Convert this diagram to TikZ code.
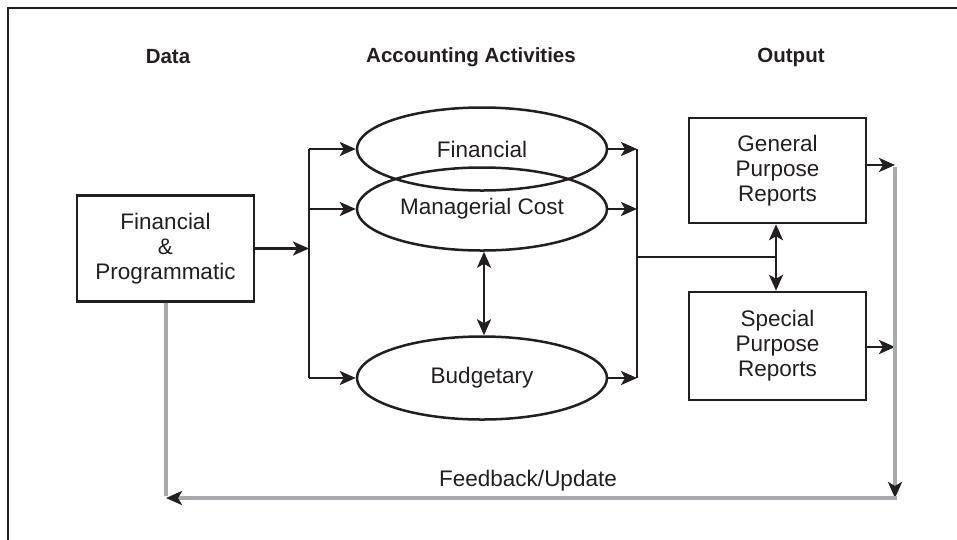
\documentclass[tikz,border=0pt]{standalone}
\usepackage{fontspec}
\setmainfont{Liberation Sans}
\usetikzlibrary{arrows.meta,shapes.geometric}
\definecolor{ink}{HTML}{231F20}
\definecolor{fbgray}{HTML}{A7A9AC}
\begin{document}
\begin{tikzpicture}[x=1pt,y=-1pt,color=ink,line width=2.5pt,
  arr/.tip={Stealth[length=16pt,width=14pt,inset=4pt]},
  >={arr},
  bodyfont/.style={font=\fontsize{22.5}{25}\selectfont},
  head/.style={font=\fontsize{20.5}{24}\selectfont\bfseries},
  repbox/.style={draw,rectangle,minimum width=177pt,minimum height=106pt,align=center,inner sep=0pt,bodyfont},
  oval/.style={draw,ellipse,minimum width=250pt,minimum height=83pt,inner sep=0pt,bodyfont},
  fbline/.style={draw=fbgray,line width=3.2pt},
  fbtip/.style={-{Stealth[length=16pt,width=14pt,inset=4pt,color=ink]}}]
\useasboundingbox (0,0) rectangle (957,539);
% frame
\draw[line width=2.8pt] (8,541) -- (8,8) -- (959,8);
% headings
\node[head] (hdata) at (168,57) {Data};
\node[head] (hact) at (471,57) {Accounting Activities};
\node[head] (hout) at (791,57) {Output};
% boxes
\node[repbox] (fp) at (165.5,248.5) {Financial\\\&\\Programmatic};
\node[repbox,minimum height=105pt] (gen) at (777.5,170.5) {General\\Purpose\\Reports};
\node[repbox,minimum height=108pt] (spe) at (777.5,346) {Special\\Purpose\\Reports};
% ellipses
\node[oval] (fin) at (482,149) {Financial};
\node[oval] (man) at (482,209) {\raisebox{-3pt}{Managerial Cost}};
\node[oval] (bud) at (482,378) {Budgetary};
% bus coordinates
\coordinate (lt) at (309,149);
\coordinate (lm) at (309,209);
\coordinate (lc) at (309,248.5);
\coordinate (lb) at (309,378);
\coordinate (rt) at (637,149);
\coordinate (rm) at (637,209);
\coordinate (rc) at (637,257);
\coordinate (rb) at (637,378);
\coordinate (jn) at (776,257);
\coordinate (gt) at (895,165);
\coordinate (st) at (895,347);
\coordinate (br) at (895,498);
\coordinate (bl) at (166,498);
% data to bus
\draw[->] (fp.east) -- (lc);
\draw (lt) -- (lb);
\draw[->] (lt) -- (fin.west);
\draw[->] (lm) -- (man.west);
\draw[->] (lb) -- (bud.west);
% ellipses to bus
\draw[->] (fin.east) -- (rt);
\draw[->] (man.east) -- (rm);
\draw[->] (bud.east) -- (rb);
\draw (rt) -- (rb);
\draw[<->] (man.south -| 484,0) -- (bud.north -| 484,0);
% to outputs
\draw (rc) -- (jn);
\draw[<->] (gen.south -| jn) -- (spe.north -| jn);
\draw[->] (gen.east |- gt) -- (gt);
\draw[->] (spe.east |- st) -- (st);
% feedback
\draw[fbline] (fp.south -| bl) -- ([yshift=1.6pt]bl);
\draw[fbline,fbtip] ([yshift=-1.6pt]gt) -- (br);
\draw[fbline,fbtip] ([xshift=1.6pt]br) -- (bl);
\node[bodyfont] (fbl) at (528,481) {Feedback/Update};
\end{tikzpicture}
\end{document}
